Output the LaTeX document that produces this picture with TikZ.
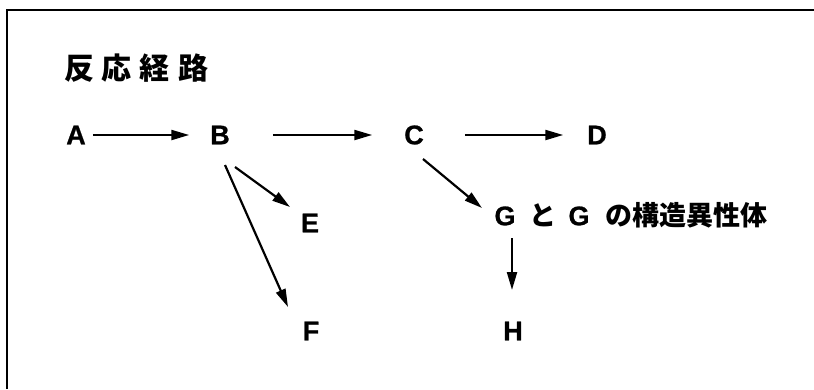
\documentclass[tikz,border=0pt]{standalone}
\usepackage{fontspec}
\setmainfont{Liberation Sans}[BoldFeatures={FakeBold=0.8}]
\newfontfamily\jp{Noto Sans CJK JP}
\usetikzlibrary{arrows.meta}
\begin{document}
\begin{tikzpicture}[x=1pt,y=-1pt,
  lbl/.style={font=\fontsize{27}{27}\selectfont\bfseries, inner sep=0pt, outer sep=0pt},
  jptitle/.style={font=\jp\fontsize{30}{30}\selectfont\bfseries, inner sep=0pt, outer sep=0pt},
  jptext/.style={font=\fontsize{27}{27}\selectfont\bfseries, inner sep=0pt, outer sep=0pt},
  rxn/.style={line width=2.2pt, -{Triangle[length=18pt,width=10pt]}},
  frame/.style={line width=2.8pt, line join=miter}]
\useasboundingbox (0,0) rectangle (814,389);
\fill[white] (0,0) rectangle (814,389);

% open frame: top and left edges only
\draw[frame] (7,389) -- (7,10) -- (814,10);

% heading
\node[jptitle, anchor=west] (title) at (64,68)
  {反\hspace{8pt}応\hspace{8pt}経\hspace{8pt}路};

% species
\node[lbl] (a) at (76,135) {A};
\node[lbl] (b) at (220,135) {B};
\node[lbl] (c) at (414,135) {C};
\node[lbl] (d) at (597,135) {D};
\node[lbl] (e) at (310,223) {E};
\node[lbl] (f) at (311,331) {F};
\node[lbl] (g) at (505,216) {G};
\node[lbl] (h) at (513,331) {H};
\node[jptext, anchor=base west] (iso) at ([xshift=14pt]g.base east)
  {{\jp\bfseries と}\hspace{12pt}G\hspace{16pt}{\jp\bfseries の構造異性体}};

% reaction steps
\draw[rxn, shorten <=7pt, shorten >=21pt] (a.east) -- (b.west);
\draw[rxn, shorten <=43pt, shorten >=32pt] (b.east) -- (c.west);
\draw[rxn, shorten <=41pt, shorten >=24pt] (c.east) -- (d.west);
\draw[rxn] ([shift={(15,32)}]b.center) -- ([shift={(-20,-16)}]e.center);
\draw[rxn] ([shift={(5,30)}]b.center) -- ([shift={(-23,-24)}]f.center);
\draw[rxn] ([shift={(9,24)}]c.center) -- ([shift={(-23,-8)}]g.center);
\draw[rxn] ([shift={(7,22)}]g.center) -- ([shift={(-1,-41)}]h.center);
\end{tikzpicture}
\end{document}
